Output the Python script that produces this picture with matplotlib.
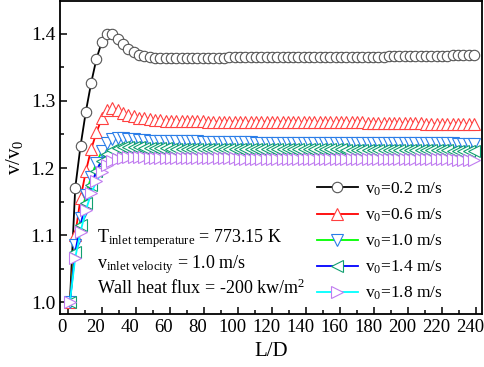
import numpy as np
import matplotlib
matplotlib.use('Agg')
import matplotlib.pyplot as plt
from matplotlib.ticker import MultipleLocator
from matplotlib.transforms import ScaledTranslation

plt.rcParams['font.family'] = 'Liberation Serif'
plt.rcParams['mathtext.fontset'] = 'custom'
plt.rcParams['mathtext.rm'] = 'Liberation Serif'
plt.rcParams['mathtext.it'] = 'Liberation Serif:italic'

# L/D sample positions (uniform grid of the simulation output)
ld = np.linspace(1.3, 238.5, 77)

v02 = [1.000, 1.170, 1.233, 1.284, 1.327, 1.363, 1.388, 1.400, 1.400, 1.393,
       1.385, 1.378, 1.373, 1.369, 1.367, 1.365, 1.364, 1.364, 1.364, 1.364,
       1.364, 1.364, 1.364, 1.364, 1.364, 1.364, 1.364, 1.364, 1.364, 1.364,
       1.365, 1.365, 1.365, 1.365, 1.365, 1.365, 1.365, 1.365, 1.365, 1.365,
       1.365, 1.365, 1.365, 1.365, 1.365, 1.366, 1.366, 1.366, 1.366, 1.366,
       1.366, 1.366, 1.366, 1.366, 1.366, 1.366, 1.366, 1.366, 1.366, 1.366,
       1.367, 1.367, 1.367, 1.367, 1.367, 1.367, 1.367, 1.367, 1.367, 1.367,
       1.367, 1.367, 1.368, 1.368, 1.368, 1.368, 1.368]

v06 = [1.000, 1.100, 1.155, 1.195, 1.228, 1.253, 1.274, 1.287, 1.289, 1.286,
       1.282, 1.279, 1.277, 1.275, 1.274, 1.273, 1.272, 1.271, 1.270, 1.270,
       1.270, 1.270, 1.270, 1.270, 1.270, 1.270, 1.269, 1.269, 1.269, 1.269,
       1.269, 1.269, 1.269, 1.269, 1.269, 1.269, 1.269, 1.269, 1.269, 1.269,
       1.269, 1.268, 1.268, 1.268, 1.268, 1.268, 1.268, 1.268, 1.268, 1.268,
       1.268, 1.268, 1.268, 1.268, 1.268, 1.268, 1.267, 1.267, 1.267, 1.267,
       1.267, 1.267, 1.267, 1.267, 1.267, 1.267, 1.267, 1.266, 1.266, 1.266,
       1.266, 1.266, 1.266, 1.266, 1.266, 1.265, 1.265]

v10 = [1.000, 1.085, 1.125, 1.160, 1.187, 1.208, 1.225, 1.237, 1.243, 1.245,
       1.245, 1.244, 1.243, 1.242, 1.242, 1.241, 1.241, 1.241, 1.240, 1.240,
       1.240, 1.240, 1.240, 1.240, 1.240, 1.239, 1.239, 1.239, 1.239, 1.239,
       1.239, 1.239, 1.239, 1.239, 1.239, 1.238, 1.238, 1.238, 1.238, 1.238,
       1.238, 1.238, 1.238, 1.238, 1.238, 1.238, 1.238, 1.238, 1.238, 1.238,
       1.238, 1.238, 1.238, 1.237, 1.237, 1.237, 1.237, 1.237, 1.237, 1.237,
       1.237, 1.237, 1.237, 1.237, 1.237, 1.237, 1.237, 1.237, 1.237, 1.237,
       1.237, 1.237, 1.237, 1.236, 1.236, 1.236, 1.236]

v14 = [1.000, 1.075, 1.115, 1.148, 1.175, 1.196, 1.211, 1.221, 1.227, 1.230,
       1.231, 1.231, 1.231, 1.231, 1.230, 1.230, 1.230, 1.230, 1.230, 1.229,
       1.229, 1.229, 1.229, 1.229, 1.229, 1.229, 1.229, 1.229, 1.229, 1.229,
       1.229, 1.229, 1.229, 1.228, 1.228, 1.228, 1.228, 1.228, 1.228, 1.228,
       1.228, 1.228, 1.228, 1.228, 1.228, 1.228, 1.228, 1.228, 1.228, 1.228,
       1.228, 1.228, 1.227, 1.227, 1.227, 1.227, 1.227, 1.227, 1.227, 1.227,
       1.227, 1.227, 1.227, 1.227, 1.227, 1.227, 1.227, 1.227, 1.227, 1.227,
       1.227, 1.227, 1.226, 1.226, 1.226, 1.226, 1.226]

v18 = [1.000, 1.066, 1.105, 1.137, 1.162, 1.180, 1.194, 1.205, 1.211, 1.214,
       1.215, 1.216, 1.216, 1.216, 1.216, 1.215, 1.215, 1.215, 1.215, 1.215,
       1.215, 1.215, 1.215, 1.215, 1.215, 1.215, 1.215, 1.215, 1.215, 1.215,
       1.215, 1.215, 1.214, 1.214, 1.214, 1.214, 1.214, 1.214, 1.214, 1.214,
       1.214, 1.214, 1.214, 1.214, 1.214, 1.214, 1.214, 1.214, 1.214, 1.214,
       1.214, 1.214, 1.214, 1.214, 1.213, 1.213, 1.213, 1.213, 1.213, 1.213,
       1.213, 1.213, 1.213, 1.213, 1.213, 1.213, 1.213, 1.213, 1.213, 1.213,
       1.213, 1.213, 1.213, 1.212, 1.212, 1.212, 1.212]

series = [v02, v06, v10, v14, v18]
labels = [r'v$_\mathregular{0}$=0.2 m/s', r'v$_\mathregular{0}$=0.6 m/s',
          r'v$_\mathregular{0}$=1.0 m/s', r'v$_\mathregular{0}$=1.4 m/s',
          r'v$_\mathregular{0}$=1.8 m/s']
line_colors = ['black', '#ff0000', '#00ff00', '#0000ff', '#00ffff']
edge_colors = ['#555555', '#ff4040', '#2a7de8', '#11a070', '#c07cf0']
markers = ['o', '^', 'v', '<', '>']

fig = plt.figure(figsize=(4.84, 3.67), dpi=100)
ax = fig.add_axes([0.124, 0.144, 0.871, 0.853])

for y, lab, lc, ec, m in zip(series, labels, line_colors, edge_colors, markers):
    ax.plot(ld, y, color=lc, lw=1.3, marker=m, markersize=8.5 if m != 'o' else 7.5,
            markerfacecolor='white', markeredgecolor=ec, markeredgewidth=0.8,
            label=lab)

ax.set_xlim(-4.5, 243)
ax.set_ylim(0.982, 1.449)
ax.xaxis.set_major_locator(MultipleLocator(20))
ax.xaxis.set_minor_locator(MultipleLocator(10))
ax.yaxis.set_major_locator(MultipleLocator(0.1))
ax.yaxis.set_minor_locator(MultipleLocator(0.05))
ax.tick_params(which='both', direction='in', top=False, right=False, labelsize=14, width=1.1)
ax.tick_params(axis='x', labelsize=13.5)
ax.tick_params(which='major', length=5)
ax.tick_params(which='minor', length=3)
for sp in ax.spines.values():
    sp.set_linewidth(1.3)

# x tick labels sit a few pixels left of their ticks in the original
shift = ScaledTranslation(-0.06, 0, fig.dpi_scale_trans)
for lbl in ax.get_xticklabels():
    lbl.set_transform(lbl.get_transform() + shift)

ax.set_xlabel('L/D', fontsize=15)
ax.set_ylabel(r'v/v$_\mathregular{0}$', fontsize=15)

ax.text(17, 1.089, r'T$_\mathregular{inlet\ temperature}$ = 773.15 K', fontsize=13)
ax.text(17, 1.051, r'v$_\mathregular{inlet\ velocity}$ = 1.0 m/s', fontsize=13)
ax.text(17, 1.012, r'Wall heat flux = -200 kw/m$^\mathregular{2}$', fontsize=13)

ax.legend(loc='lower right', bbox_to_anchor=(0.945, -0.012), frameon=False, fontsize=12.5,
          handlelength=2.4, labelspacing=0.5, handletextpad=0.4)

fig.savefig('out.png', dpi=100)
